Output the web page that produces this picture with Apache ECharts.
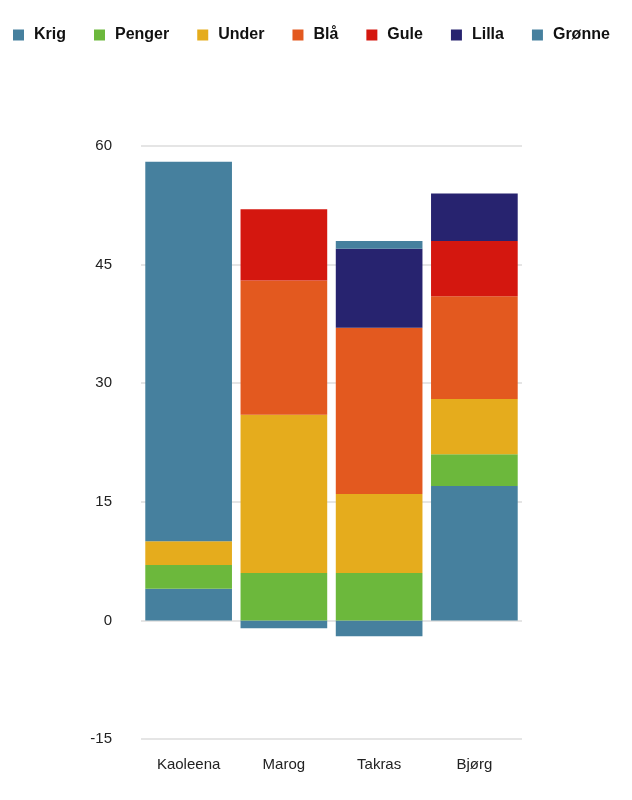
<!DOCTYPE html>
<html>
<head>
<meta charset="utf-8">
<script src="https://cdn.jsdelivr.net/npm/echarts@6/dist/echarts.min.js"></script>
<style>
  html, body { margin: 0; padding: 0; background: #fff; }
  #chart { width: 632px; height: 800px; }
</style>
</head>
<body>
<div id="chart"></div>
<script>
const FONT = '"Liberation Sans", Arial, sans-serif'

const categories = ['Kaoleena', 'Marog', 'Takras', 'Bjørg']
const seriesNames = ['Krig', 'Penger', 'Under', 'Blå', 'Gule', 'Lilla', 'Grønne']
const colors = ['#46809e', '#6cb83c', '#e5ac1d', '#e3591f', '#d4170f', '#27236f', '#46809e']

const krig = [4, -1, -2, 17]
const penger = [3, 6, 6, 4]
const under = [3, 20, 10, 7]
const blaa = [0, 17, 21, 13]
const gule = [0, 9, 0, 7]
const lilla = [0, 0, 10, 6]
const gronne = [48, 0, 1, 0]

const values = [krig, penger, under, blaa, gule, lilla, gronne]

const chart = echarts.init(document.getElementById('chart'))

chart.setOption({
  animation: false,
  color: colors,
  legend: {
    top: 22,
    left: 8,
    itemWidth: 11,
    itemHeight: 11,
    itemGap: 28,
    icon: 'rect',
    textStyle: { fontFamily: FONT, fontSize: 16, fontWeight: 'bold', color: '#111', padding: [0, 0, 0, 5] },
    data: seriesNames,
  },
  grid: { left: 141, right: 110, top: 146, bottom: 61 },
  xAxis: {
    type: 'category',
    data: categories,
    axisLine: { show: false },
    axisTick: { show: false },
    axisLabel: { fontFamily: FONT, fontSize: 15, color: '#222', margin: 18 },
  },
  yAxis: {
    type: 'value',
    min: -15,
    max: 60,
    interval: 15,
    axisLine: { show: false },
    axisTick: { show: false },
    axisLabel: { fontFamily: FONT, fontSize: 15, color: '#222', margin: 29 },
    splitLine: { lineStyle: { color: '#dddddd', width: 1.5 } },
  },
  series: seriesNames.map((name, i) => ({
    name: name,
    type: 'bar',
    stack: 'total',
    barCategoryGap: '9%',
    data: values[i],
  })),
})
</script>
</body>
</html>
